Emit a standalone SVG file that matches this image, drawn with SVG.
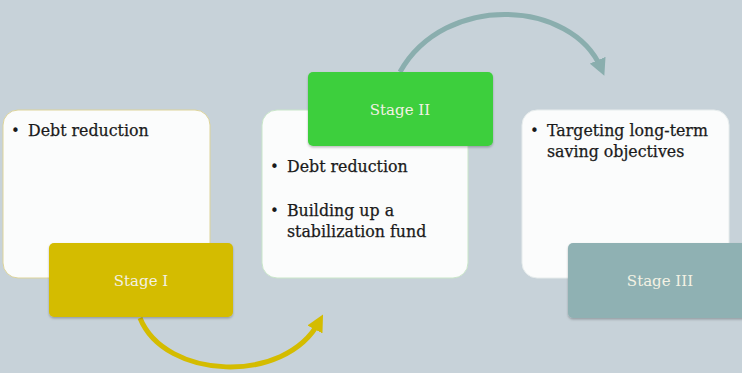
<svg xmlns="http://www.w3.org/2000/svg" width="742" height="373" viewBox="0 0 742 373">
<style>
.card{fill:#fbfcfc;stroke-width:1}
.stage{stroke:none}
.lbl{font-family:"DejaVu Serif","Liberation Serif",serif;font-size:15px;fill:#f3f1e4;text-anchor:middle}
.txt{font-family:"DejaVu Serif","Liberation Serif",serif;font-size:15.8px;fill:#1a1a1a;stroke:#1a1a1a;stroke-width:0.25}
.bul{font-family:"DejaVu Sans",sans-serif;font-size:15px;fill:#1a1a1a}
</style>
<defs>
<marker id="ay" markerWidth="3.4" markerHeight="3.4" refX="1.7" refY="1.7" orient="auto" markerUnits="strokeWidth"><path d="M0,0 L3.4,1.7 L0,3.4 Z" fill="#d4bc00"/></marker>
<marker id="at" markerWidth="3.4" markerHeight="3.4" refX="1.7" refY="1.7" orient="auto" markerUnits="strokeWidth"><path d="M0,0 L3.4,1.7 L0,3.4 Z" fill="#8aaeae"/></marker>
<filter id="sh" x="-10%" y="-10%" width="120%" height="130%"><feDropShadow dx="0" dy="1.5" stdDeviation="1.2" flood-color="#000" flood-opacity="0.25"/></filter>
</defs>
<rect width="742" height="373" fill="#c7d2d9"/>
<g id="connectors" fill="none" stroke-width="5">
<path d="M140,318 C165,380 285,385 319,322" stroke="#d4bc00" marker-end="url(#ay)"/>
<path d="M400,72 C445,-8 572,0 601,68" stroke="#8aaeae" marker-end="url(#at)"/>
</g>
<g id="card1">
<rect class="card" x="3" y="110" width="207" height="168" rx="15" stroke="#ddd49a"/>
<text class="bul" x="11" y="136">•</text>
<text class="txt" x="28" y="136">Debt reduction</text>
</g>
<g id="stage1">
<rect class="stage" x="49" y="243" width="184" height="74" rx="5" fill="#d4bc00" filter="url(#sh)"/>
<text class="lbl" x="141" y="286">Stage I</text>
</g>
<g id="card2">
<rect class="card" x="262" y="110" width="206" height="168" rx="15" stroke="#c9e6c9"/>
<text class="bul" x="270" y="172">•</text>
<text class="txt" x="287" y="172">Debt reduction</text>
<text class="bul" x="270" y="216">•</text>
<text class="txt" x="287" y="216">Building up a</text>
<text class="txt" x="287" y="237">stabilization fund</text>
</g>
<g id="stage2">
<rect class="stage" x="308" y="72" width="185" height="74" rx="5" fill="#3ecf3e" filter="url(#sh)"/>
<text class="lbl" x="400" y="115">Stage II</text>
</g>
<g id="card3">
<rect class="card" x="522" y="110" width="207" height="168" rx="15" stroke="#e6ecec"/>
<text class="bul" x="530" y="136">•</text>
<text class="txt" x="547" y="136">Targeting long-term</text>
<text class="txt" x="547" y="157">saving objectives</text>
</g>
<g id="stage3">
<rect class="stage" x="568" y="243" width="185" height="75" rx="5" fill="#8fb1b3" filter="url(#sh)"/>
<text class="lbl" x="660" y="286">Stage III</text>
</g>
</svg>
